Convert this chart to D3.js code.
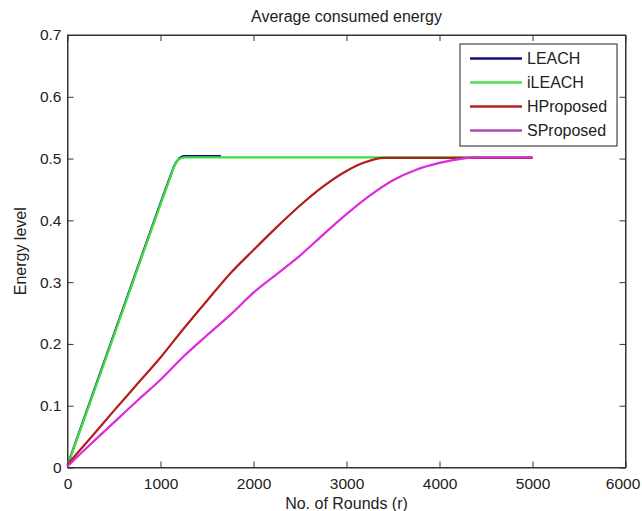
<!DOCTYPE html>
<html>
<head>
<meta charset="utf-8">
<script src="https://cdn.jsdelivr.net/npm/d3@7"></script>
<style>
  body { margin: 0; background: #fff; }
  svg { display: block; font-family: "Liberation Sans", Arial, sans-serif; }
  .osa path, .osa line { stroke: #333; }
  .osa text { font-size: 15.5px; fill: #222; }
</style>
</head>
<body>
<div id="graf"></div>
<script>
// podaci ocitani sa slike (runda, energija)
const leach = [[0,0.004],[250,0.110],[500,0.216],[750,0.322],[1000,0.428],[1100,0.469],[1150,0.489],[1200,0.500],[1250,0.504],[1650,0.504]];
const ileach = [[0,0.003],[250,0.108],[500,0.214],[750,0.320],[1000,0.426],[1100,0.467],[1150,0.488],[1200,0.499],[1260,0.502],[5000,0.502]];
const hProposed = [[0,0.005],[250,0.048],[500,0.092],[750,0.135],[1000,0.178],[1250,0.225],[1500,0.270],[1750,0.314],[2000,0.352],[2250,0.389],[2500,0.424],[2750,0.455],[3000,0.480],[3200,0.494],[3400,0.501],[5000,0.501]];
const sProposed = [[0,0.002],[250,0.038],[500,0.073],[750,0.108],[1000,0.142],[1250,0.180],[1500,0.214],[1750,0.247],[2000,0.283],[2250,0.313],[2500,0.343],[2750,0.377],[3000,0.410],[3250,0.440],[3500,0.465],[3750,0.482],[4000,0.493],[4250,0.500],[4400,0.502],[5000,0.502]];

const nazivi = ["LEACH", "iLEACH", "HProposed", "SProposed"];
const boje = ["#101080", "#3ee03e", "#b41c1c", "#dc2adc"];
const bojeLegende = ["#101080", "#50dc50", "#b02424", "#b04cb0"];
const xTickovi = [0, 1000, 2000, 3000, 4000, 5000, 6000];
const yTickovi = [0, 0.1, 0.2, 0.3, 0.4, 0.5, 0.6, 0.7];

const serije = [leach, ileach, hProposed, sProposed];

let dim = {
  sirina: 642,
  visina: 511,
  margine: { top: 35, right: 16.5, bottom: 43.5, left: 67.5 },
};
dim.grSirina = dim.sirina - dim.margine.left - dim.margine.right;
dim.grVisina = dim.visina - dim.margine.top - dim.margine.bottom;

const okvir = d3.select("#graf").append("svg")
  .attr("width", dim.sirina)
  .attr("height", dim.visina);

const g = okvir.append("g")
  .attr("transform", `translate(${dim.margine.left},${dim.margine.top})`);

const xSkala = d3.scaleLinear().domain([0, 6000]).range([0, dim.grSirina]);
const ySkala = d3.scaleLinear().domain([0, 0.7]).range([dim.grVisina, 0]);

const fmtY = d => d === 0 ? "0" : d3.format(".1f")(d);

// osi (MATLAB stil, crtice prema unutra)
const xOsa = g.append("g").attr("class", "osa")
  .attr("transform", `translate(0,${dim.grVisina})`)
  .call(d3.axisBottom(xSkala).tickValues(xTickovi).tickSize(-6).tickSizeOuter(0).tickPadding(10).tickFormat(d3.format("d")));
xOsa.selectAll(".tick text").filter(d => d === 6000).attr("dx", "-3");
g.append("g").attr("class", "osa")
  .call(d3.axisTop(xSkala).tickValues(xTickovi).tickSize(-6).tickSizeOuter(0).tickFormat(""));
g.append("g").attr("class", "osa")
  .call(d3.axisLeft(ySkala).tickValues(yTickovi).tickSize(-6).tickSizeOuter(0).tickPadding(6).tickFormat(fmtY));
g.append("g").attr("class", "osa")
  .attr("transform", `translate(${dim.grSirina},0)`)
  .call(d3.axisRight(ySkala).tickValues(yTickovi).tickSize(-6).tickSizeOuter(0).tickFormat(""));

g.append("rect")
  .attr("width", dim.grSirina)
  .attr("height", dim.grVisina)
  .attr("fill", "none")
  .attr("stroke", "#333");

// linije
const linija = d3.line()
  .x(d => xSkala(d[0]))
  .y(d => ySkala(d[1]))
  .curve(d3.curveMonotoneX);

g.selectAll(".serija")
  .data(serije)
  .enter().append("path")
  .attr("class", "serija")
  .attr("d", linija)
  .attr("fill", "none")
  .attr("stroke", (d, i) => boje[i])
  .attr("stroke-width", 2.2)
  .attr("stroke-linejoin", "round");

// naslov i oznake osi
okvir.append("text")
  .attr("x", dim.margine.left + dim.grSirina / 2)
  .attr("y", 22)
  .attr("text-anchor", "middle")
  .style("font-size", "16px")
  .attr("fill", "#222")
  .text("Average consumed energy");

okvir.append("text")
  .attr("x", dim.margine.left + dim.grSirina / 2)
  .attr("y", 509)
  .attr("text-anchor", "middle")
  .style("font-size", "16px")
  .attr("fill", "#222")
  .text("No. of Rounds (r)");

okvir.append("text")
  .attr("transform", `translate(26,${dim.margine.top + dim.grVisina / 2}) rotate(-90)`)
  .attr("text-anchor", "middle")
  .style("font-size", "16px")
  .attr("fill", "#222")
  .text("Energy level");

// legenda
const legenda = okvir.append("g").attr("transform", "translate(460,44)");
legenda.append("rect")
  .attr("width", 157)
  .attr("height", 102)
  .attr("fill", "#fff")
  .attr("stroke", "#222");

const stavke = legenda.selectAll(".stavka")
  .data(nazivi)
  .enter().append("g")
  .attr("class", "stavka")
  .attr("transform", (d, i) => `translate(0,${14.5 + i * 24})`);

stavke.append("line")
  .attr("x1", 10).attr("x2", 62)
  .attr("stroke", (d, i) => bojeLegende[i])
  .attr("stroke-width", 2.5);

stavke.append("text")
  .attr("x", 67)
  .attr("dy", "0.36em")
  .style("font-size", "16px")
  .attr("fill", "#222")
  .text(d => d);
</script>
</body>
</html>
